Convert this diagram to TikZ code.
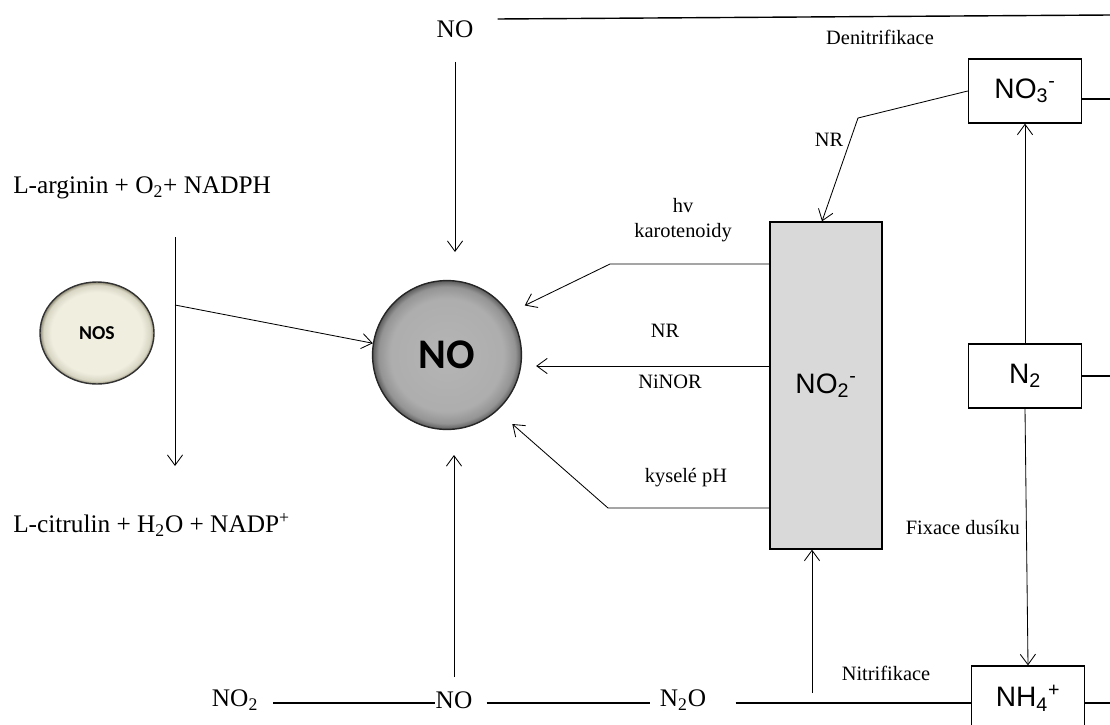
\documentclass[tikz,border=0pt]{standalone}
\usepackage{fontspec}
\setmainfont{Liberation Serif}
\setsansfont{Liberation Sans}
\newfontfamily\calfont{Carlito}
\usetikzlibrary{arrows.meta,positioning,shapes.geometric}
\definecolor{BoxGray}{HTML}{D9D9D9}
\definecolor{NosBeige}{HTML}{F0EEDF}
\definecolor{NosRim}{HTML}{8E8A72}
\pgfdeclareradialshading{noball}{\pgfpoint{0bp}{0bp}}{color(0bp)=(black!29); color(19bp)=(black!32); color(23bp)=(black!42); color(25bp)=(black!64); color(50bp)=(black!64)}
\pgfdeclareradialshading{nosball}{\pgfpoint{0bp}{0bp}}{color(0bp)=(NosBeige); color(20bp)=(NosBeige); color(23.5bp)=(NosBeige!75!NosRim); color(25bp)=(NosRim); color(50bp)=(NosRim)}

\begin{document}
\begin{tikzpicture}[x=0.025cm,y=-0.025cm,
  chem/.style={font=\fontsize{18}{20}\selectfont,inner sep=0pt},
  lab/.style={font=\fontsize{14.5}{18}\selectfont,inner sep=0pt,align=center},
  bx/.style={draw,line width=0.9pt,minimum width=2.83cm,minimum height=1.6cm,inner sep=0pt,font=\sffamily\fontsize{20}{22}\selectfont},
  arr/.style={-{Straight Barb[length=2.6mm,width=3.8mm]},line width=0.6pt},
  ln/.style={line width=1pt}]
  \useasboundingbox (0,0) rectangle (1110,724);
  \fill[white] (0,0) rectangle (1110,724);
  \clip (0,0) rectangle (1110,724);

  \node[chem,anchor=west] (arg) at (13,188) {L-arginin + O\textsubscript{2}+ NADPH};
  \node[chem,anchor=west] (cit) at (13,525) {L-citrulin + H\textsubscript{2}O + NADP\textsuperscript{+}};
  \node[ellipse,draw=black!80,line width=1pt,minimum width=2.85cm,minimum height=2.55cm,shading=nosball,
    font=\calfont\bfseries\fontsize{14}{16}\selectfont] (nos) at (97,333) {NOS};
  \node[circle,draw=black!85,line width=1pt,minimum size=3.72cm,shading=noball,
    font=\calfont\bfseries\fontsize{30}{32}\selectfont] (no) at (447,355) {NO};

  \node[chem] (noTop) at (455,29) {NO};
  \node[chem] (noBot) at (454,700) {NO};
  \node[chem] (no2Bot) at (235,700) {NO\textsubscript{2}};
  \node[chem] (n2oBot) at (683,700) {N\textsubscript{2}O};

  \node[bx] (no3) at (1025,91) {NO\textsubscript{3}\textsuperscript{-}};
  \node[bx] (n2) at (1025,376) {N\textsubscript{2}};
  \node[bx] (nh4) at (1028,698) {NH\textsubscript{4}\textsuperscript{+}};
  \node[bx,fill=BoxGray,minimum width=2.8cm,minimum height=8.175cm] (no2) at (826,385.5) {NO\textsubscript{2}\textsuperscript{-}};

  \node[lab] (denit) at (880,37) {Denitrifikace};
  \node[lab] (nit) at (886,673) {Nitrifikace};
  \node[lab,anchor=east] (fix) at (1020,528) {Fixace dusíku};
  \node[lab] (hv) at (683,220) {hv\\karotenoidy};
  \node[lab] (nrA) at (665,331) {NR};
  \node[lab] (ninor) at (670,382) {NiNOR};
  \node[lab] (kys) at (686,478) {kyselé pH};
  \node[lab] (nrB) at (829,140) {NR};

  \coordinate (topEnd) at (1110,15);
  \coordinate (bl) at (0,703);
  \coordinate (rxTop) at (175,237);
  \coordinate (rxMid) at (175,305);
  \coordinate (rxBot) at (175,466);
  \coordinate (nrBend) at (858,118);
  \coordinate (nitBase) at (812,693);

  \draw[ln] ([xshift=0.6cm,yshift=0.25cm]noTop.east) -- (topEnd);
  \draw[arr] ([yshift=-0.6cm]noTop.south) -- (noTop.south |- 0,252);
  \draw[arr] ([yshift=0.35cm]noBot.north) -- (noBot.north |- 0,455);

  \draw[arr] (rxTop) -- (rxBot);
  \draw[arr] (rxMid) -- (no.171);

  \draw[arr,shorten >=0.43cm] (no2.west |- 0,264) -- (610,264) -- (no.34);
  \draw[arr,shorten >=0.35cm] (no2.west |- 0,366) -- (no.east |- 0,366);
  \draw[arr,shorten >=0.5cm] (no2.west |- 0,508) -- (608,508) -- (no.-48);

  \draw[arr] (no3.west) -- (nrBend) -- ([xshift=-0.1cm]no2.north);
  \draw[arr] (n2.north) -- (no3.south);
  \draw[arr] (n2.south) -- (nh4.north);
  \draw[arr] (nitBase) -- (nitBase |- no2.south);

  \draw[ln] (no3.east |- 0,99) -- (1110,99);
  \draw[ln] (n2.east) -- (n2.east -| 1110,0);
  \draw[ln] (nh4.east |- bl) -- (bl -| 1110,0);

  \draw[ln,shorten <=0.375cm] (no2Bot.east |- bl) -- (noBot.west |- bl);
  \draw[ln,shorten <=0.35cm,shorten >=0.25cm] (noBot.east |- bl) -- (n2oBot.west |- bl);
  \draw[ln,shorten <=0.73cm] (n2oBot.east |- bl) -- (nh4.west |- bl);
\end{tikzpicture}
\end{document}
